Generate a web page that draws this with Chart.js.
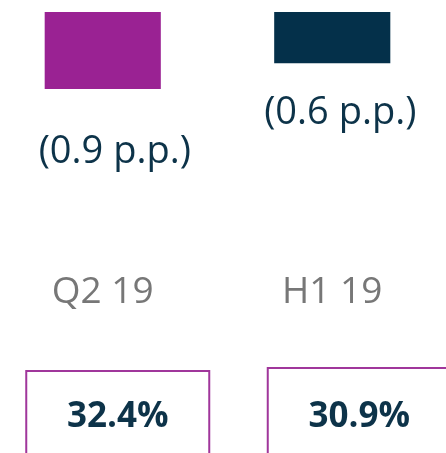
<!DOCTYPE html>
<html>
<head>
<meta charset="utf-8">
<script src="https://cdn.jsdelivr.net/npm/chart.js@4"></script>
<style>
  html, body { margin: 0; padding: 0; background: #fff; overflow: hidden; }
  #wrap { position: absolute; left: -12px; top: 0; width: 459px; height: 453px; }
</style>
</head>
<body>
<div id="wrap"><canvas id="chart"></canvas></div>
<script>
(function () {
  "use strict";

  var categories = ["Q2 19", "H1 19"];
  var changes = [-0.9, -0.6];      // p.p. drop shown by each bar
  var ratios = [32.4, 30.9];       // boxed value below each period
  var barColors = ["#9a2293", "#04304a"];

  var NAVY = "#0d3349";
  var GREY = "#777777";
  var BOX = "#a0369b";
  var FONT = "'Open Sans', sans-serif";

  /* ── Labels, periods and boxes ─────────────── */

  var annotate = {
    id: "annotate",
    afterDatasetsDraw: function (chart) {
      var ctx = chart.ctx;
      var x = chart.scales.x;
      var y = chart.scales.y;
      var labelShift = [12, 8];
      var labelGap = [74, 61];
      var boxShift = [15, 27];
      var boxTop = [371, 368];

      ctx.save();
      ctx.textAlign = "center";
      ctx.textBaseline = "alphabetic";

      categories.forEach(function (cat, i) {
        var cx = x.getPixelForValue(i);
        var end = y.getPixelForValue(changes[i]);

        ctx.fillStyle = NAVY;
        ctx.font = "38px " + FONT;
        ctx.fillText("(" + Math.abs(changes[i]).toFixed(1) + " p.p.)", cx + labelShift[i], end + labelGap[i]);

        ctx.fillStyle = GREY;
        ctx.font = "37px " + FONT;
        ctx.fillText(cat, cx, 303);

        var bx = cx + boxShift[i];
        ctx.strokeStyle = BOX;
        ctx.lineWidth = 2;
        ctx.strokeRect(bx - 91.5, boxTop[i], 183, 120);

        ctx.fillStyle = NAVY;
        ctx.font = "bold 35px " + FONT;
        ctx.fillText(ratios[i].toFixed(1) + "%", bx, 427);
      });
      ctx.restore();
    }
  };

  new Chart(document.getElementById("chart"), {
    type: "bar",
    data: {
      labels: categories,
      datasets: [{
        data: changes.map(function (v) { return [v, 0]; }),
        backgroundColor: barColors,
        borderWidth: 0,
        categoryPercentage: 0.506,
        barPercentage: 1
      }]
    },
    options: {
      responsive: true,
      maintainAspectRatio: false,
      animation: false,
      layout: { padding: 0 },
      scales: {
        x: { display: false },
        y: { display: false, min: -5.152, max: 0.14 }
      },
      plugins: {
        legend: { display: false },
        tooltip: { enabled: false }
      }
    },
    plugins: [annotate]
  });
})();
</script>
</body>
</html>
